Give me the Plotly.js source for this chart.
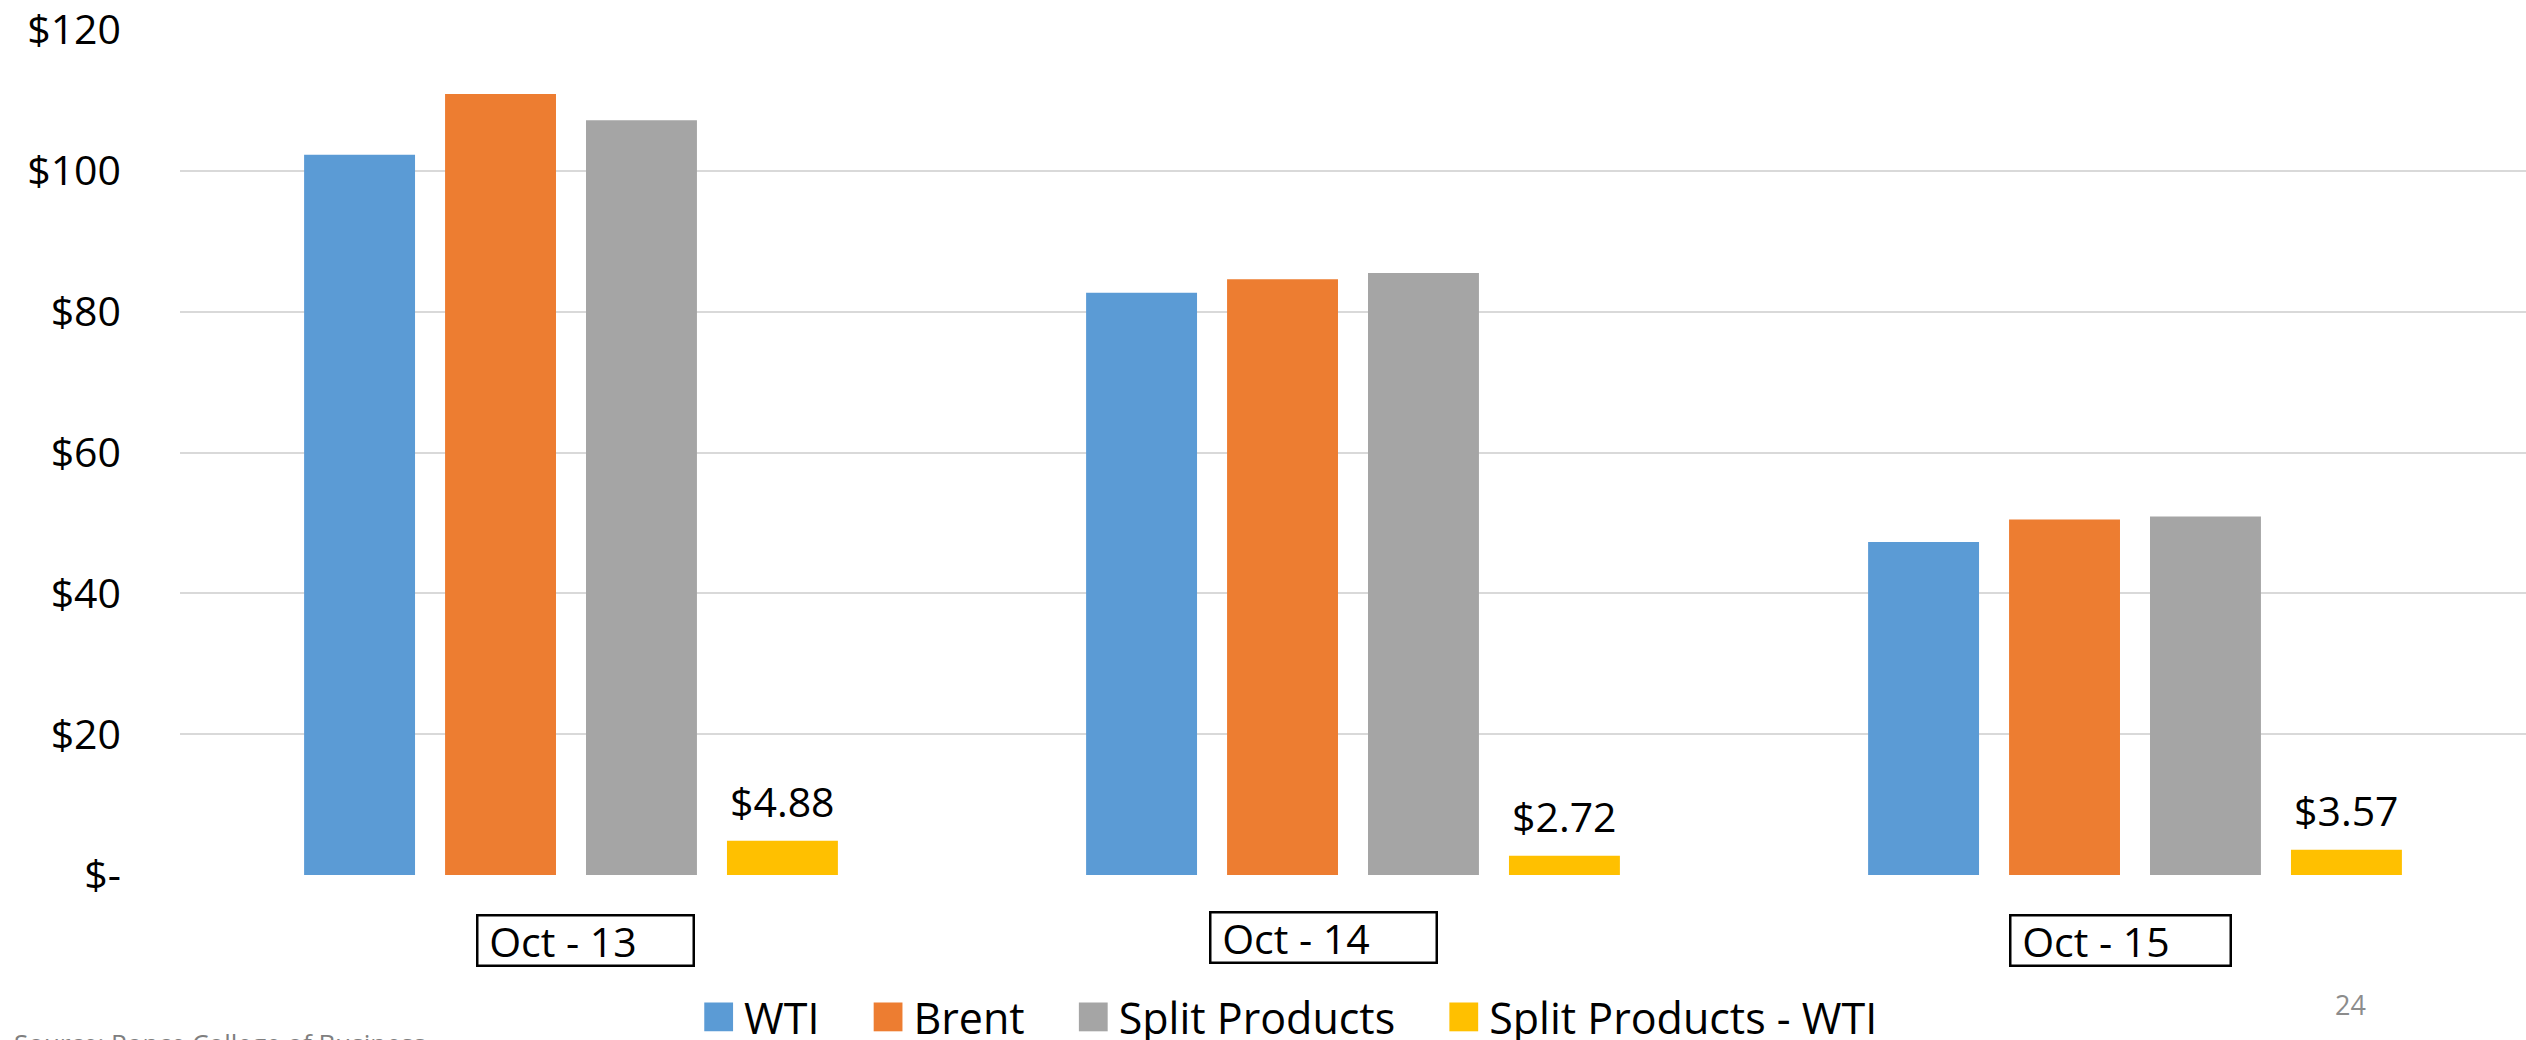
<!DOCTYPE html>
<html>
<head>
<meta charset="utf-8">
<script src="https://cdn.plot.ly/plotly-3.0.1.min.js"></script>
<style>
  html, body { margin: 0; padding: 0; background: #fff; }
  #chart { width: 2526px; height: 1040px; }
</style>
</head>
<body>
<div id="chart"></div>
<script>
// valores (US$ por barril)
var categories = ['Oct - 13', 'Oct - 14', 'Oct - 15'];
var wti = [102.3, 82.7, 47.3];
var brent = [110.9, 84.6, 50.5];
var splitProducts = [107.2, 85.5, 50.9];
var splitMinusWti = [4.88, 2.72, 3.57];

var seriesNames = ['WTI', 'Brent', 'Split Products', 'Split Products - WTI'];
var seriesColors = ['#5B9BD5', '#ED7D31', '#A5A5A5', '#FFC000'];

var yTickVals = [0, 20, 40, 60, 80, 100, 120];
var yTickText = ['$-', '$20', '$40', '$60', '$80', '$100', '$120'];

var sourceNote = 'Source: Ponce College of Business';
var pageNumber = '24';

var FONT = 'Open Sans, Lato, sans-serif';

var seriesValues = [wti, brent, splitProducts, splitMinusWti];
var data = seriesValues.map(function(vals, i) {
    return {
        type: 'bar',
        name: seriesNames[i],
        x: categories,
        y: vals,
        marker: { color: seriesColors[i], line: { width: 0 } },
        hoverinfo: 'y+name'
    };
});

// rotulos de dados da serie amarela (posicao vem do proprio eixo)
var annotations = categories.map(function(cat, i) {
    return {
        xref: 'x', yref: 'y',
        x: cat, y: splitMinusWti[i],
        xanchor: 'center', yanchor: 'bottom',
        xshift: 1.5 * (1 - 0.279) * 782 / 4,
        yshift: 10,
        text: '$' + splitMinusWti[i].toFixed(2),
        showarrow: false,
        font: { family: FONT, size: 41, color: '#000' }
    };
});

// caixas com o nome de cada mes, abaixo do eixo (ajuste fino de cada uma)
var boxShift = [14, -30, -15];
var boxLift = [0, 3, 0];
var boxWidth = [214, 224, 218];
categories.forEach(function(cat, i) {
    annotations.push({
        xref: 'x', yref: 'paper',
        x: cat, y: -0.077,
        xanchor: 'center', yanchor: 'middle',
        xshift: boxShift[i],
        yshift: boxLift[i],
        text: '\u00a0' + cat,
        showarrow: false,
        align: 'left',
        width: boxWidth[i],
        height: 48,
        valign: 'middle',
        borderpad: 0,
        bordercolor: '#000',
        borderwidth: 2.5,
        font: { family: FONT, size: 41, color: '#000' }
    });
});

annotations.push({
    xref: 'paper', yref: 'paper',
    x: 0.925, y: -0.153,
    xanchor: 'center', yanchor: 'middle',
    text: pageNumber,
    showarrow: false,
    font: { family: FONT, size: 27, color: '#8c8c8c' }
});

annotations.push({
    xref: 'paper', yref: 'paper',
    x: -0.0716, y: -0.175,
    xanchor: 'left', yanchor: 'top',
    text: sourceNote,
    showarrow: false,
    font: { family: FONT, size: 26, color: '#7f7f7f' }
});

var layout = {
    width: 2526,
    height: 1040,
    margin: { l: 180, r: 0, t: 29.5, b: 164.5, pad: 0, autoexpand: false },
    paper_bgcolor: '#fff',
    plot_bgcolor: '#fff',
    barmode: 'group',
    bargap: 0.279,
    bargroupgap: 0.213,
    showlegend: true,
    legend: {
        orientation: 'h',
        x: 0.2025, xanchor: 'left',
        y: -0.168, yanchor: 'middle',
        traceorder: 'normal',
        font: { family: FONT, size: 43, color: '#000' },
        itemwidth: 79,
        bgcolor: 'rgba(0,0,0,0)'
    },
    xaxis: {
        type: 'category',
        showticklabels: false,
        showgrid: false,
        zeroline: false,
        showline: false,
        ticks: ''
    },
    yaxis: {
        range: [0, 120],
        tickvals: yTickVals,
        ticktext: yTickText,
        showgrid: true,
        gridcolor: '#d9d9d9',
        gridwidth: 2,
        zeroline: false,
        showline: false,
        ticks: '',
        ticklabelstandoff: 58,
        ticklabeloverflow: 'allow',
        tickfont: { family: FONT, size: 41, color: '#000' }
    },
    annotations: annotations
};

Plotly.newPlot('chart', data, layout, { displayModeBar: false, staticPlot: true }).then(function(gd) {
    // quadradinhos da legenda maiores, como no original, encostados no texto
    gd.querySelectorAll('.legend .traces').forEach(function(item) {
        var p = item.querySelector('.legendpoints path');
        var txt = item.querySelector('text.legendtext');
        if (!p || !txt) return;
        var old = p.getAttribute('transform') || '';
        p.setAttribute('transform', old + ' scale(2.4)');
        var pr = p.getBoundingClientRect();
        var tr = txt.getBoundingClientRect();
        var dx = (tr.left - 11) - pr.right;
        p.setAttribute('transform', 'translate(' + dx + ',0) ' + old + ' scale(2.4)');
    });
});
</script>
</body>
</html>
